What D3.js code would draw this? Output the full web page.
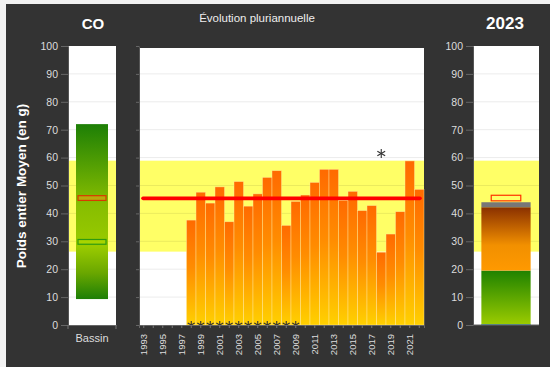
<!DOCTYPE html>
<html><head><meta charset="utf-8">
<script src="https://cdn.jsdelivr.net/npm/d3@7"></script>
<style>
html,body{margin:0;padding:0;background:#f2f2f2;}
svg{display:block;font-family:"Liberation Sans",Arial,Helvetica,sans-serif;}
</style></head>
<body><svg id="c" width="550" height="367"></svg>
<script>
// ---- data ----
const years = [1993,1994,1995,1996,1997,1998,1999,2000,2001,2002,2003,2004,2005,2006,2007,2008,2009,2010,2011,2012,2013,2014,2015,2016,2017,2018,2019,2020,2021,2022];
const yearValues = [null,null,null,null,null,37.6,47.6,43.7,49.5,37.0,51.4,42.6,47.0,52.9,55.3,35.7,44.3,46.6,51.1,55.8,55.8,44.6,47.9,41.0,42.8,26.1,32.6,40.6,58.8,48.6];
const zeroMarkerYears = [1998,1999,2000,2001,2002,2003,2004,2005,2006,2007,2008,2009];
const highMarkerYears = [2018];
const highMarkerValues = [61.5];
const refMean = [45.4];
const refBand = [26.3, 58.9];
const bassinRange = [9.3, 72.0];
const bassinMean = [45.5];
const bassinMedian = [29.8];
const stackNames = ["classe1","classe2","classe3"];
const stack2023 = [19.5, 22.7, 1.8];
const mark2023 = [45.5];
const yTicks = [0,10,20,30,40,50,60,70,80,90,100];
const yearLabels = [1993,1995,1997,1999,2001,2003,2005,2007,2009,2011,2013,2015,2017,2019,2021];

// ---- layout ----
const svg = d3.select("#c");
svg.append("rect").attr("x",6).attr("y",4).attr("width",544).attr("height",363).attr("fill","#333333");

const yTop = 46, yBot = 325;
const y = d3.scaleLinear().domain([0,100]).range([yBot,yTop]);

const defs = svg.append("defs");
function grad(id, stops, units){
  const g = defs.append("linearGradient").attr("id",id).attr("x1",0).attr("y1",0).attr("x2",0).attr("y2",1);
  if(units) g.attr("gradientUnits",units);
  stops.forEach(s=>g.append("stop").attr("offset",s[0]).attr("stop-color",s[1]));
  return g;
}
grad("gBar",[[0,"#ff6a00"],[0.45,"#ff8c00"],[1,"#ffd000"]]);
grad("gBassin",[[0,"#1d7f06"],[0.45,"#86bd00"],[0.7,"#9acb00"],[0.85,"#6aa700"],[1,"#1d7f06"]]);
grad("gGreen",[[0,"#1f8200"],[1,"#9ccc00"]]);
grad("gOrange",[[0,"#8a3000"],[0.6,"#f29000"],[1,"#ff9900"]]);

function panelBase(x0, x1, top){
  const g = svg.append("g");
  g.append("rect").attr("x",x0).attr("y",top).attr("width",x1-x0).attr("height",yBot-top).attr("fill","#ffffff");
  g.append("rect").attr("x",x0).attr("y",y(refBand[1])).attr("width",x1-x0)
    .attr("height",y(refBand[0])-y(refBand[1])).attr("fill","#ffff66");
  g.selectAll("line.grid").data(yTicks.filter(t=>t>0 && y(t)>top+1)).join("line")
    .attr("x1",x0).attr("x2",x1).attr("y1",d=>y(d)).attr("y2",d=>y(d))
    .attr("stroke","#000").attr("stroke-opacity",0.08).attr("stroke-width",1);
  return g;
}
function yAxis(x0, labels){
  const ax = d3.axisLeft(y).tickValues(yTicks).tickSize(labels?7:3).tickPadding(3).tickFormat(labels?d3.format("d"):"");
  const g = svg.append("g").attr("transform",`translate(${x0},0)`).call(ax);
  g.select(".domain").attr("stroke","#555");
  g.selectAll(".tick line").attr("stroke","#666");
  g.selectAll(".tick text").attr("fill","#dddddd").attr("font-size",10.5);
  return g;
}

// ---- left panel ----
const L0 = 68, L1 = 116;
panelBase(L0, L1, yTop);
const xL = d3.scaleBand().domain(["Bassin"]).range([L0,L1]).paddingInner(0).paddingOuter(0.25);
svg.append("rect").attr("x",xL("Bassin")).attr("width",xL.bandwidth())
  .attr("y",y(bassinRange[1])).attr("height",y(bassinRange[0])-y(bassinRange[1])).attr("fill","url(#gBassin)");
svg.append("rect").attr("x",xL("Bassin")+2).attr("width",xL.bandwidth()-4)
  .attr("y",y(bassinMean[0]+0.85)).attr("height",y(bassinMean[0]-0.85)-y(bassinMean[0]+0.85))
  .attr("fill","#e0a010").attr("fill-opacity",0.6).attr("stroke","#d83a00").attr("stroke-width",1.2);
svg.append("rect").attr("x",xL("Bassin")+2).attr("width",xL.bandwidth()-4)
  .attr("y",y(bassinMedian[0]+0.85)).attr("height",y(bassinMedian[0]-0.85)-y(bassinMedian[0]+0.85))
  .attr("fill","#a8d400").attr("stroke","#2f9a10").attr("stroke-width",1.2);
yAxis(L0, true);
const bl = svg.append("g").attr("transform",`translate(0,${yBot})`).call(d3.axisBottom(xL).tickSize(0).tickPadding(9));
bl.select(".domain").attr("stroke","#666");
bl.selectAll("text").attr("fill","#dddddd").attr("font-size",11);
[L0,L1].forEach(xx=>svg.append("line").attr("x1",xx).attr("x2",xx).attr("y1",yBot).attr("y2",yBot+4).attr("stroke","#777"));
svg.append("text").attr("x",93).attr("y",29).attr("text-anchor","middle").attr("fill","#fff")
  .attr("font-size",15).attr("font-weight","bold").text("CO");
svg.append("text").attr("transform","translate(26,186) rotate(-90)").attr("text-anchor","middle")
  .attr("fill","#fff").attr("font-size",13.5).attr("font-weight","bold").text("Poids entier Moyen (en g)");

// ---- middle panel ----
const M0 = 139, M1 = 424, mTop = 48;
panelBase(M0, M1, mTop);
const xM = d3.scaleBand().domain(years).range([M0,M1]).padding(0);
const clip = defs.append("clipPath").attr("id","clipM");
clip.append("rect").attr("x",M0).attr("y",mTop).attr("width",M1-M0).attr("height",yBot-mTop);
const barData = years.map((yr,i)=>({yr, v:yearValues[i]})).filter(d=>d.v!=null);
svg.append("g").selectAll("rect").data(barData).join("rect")
  .attr("x",d=>xM(d.yr)).attr("width",xM.bandwidth())
  .attr("y",d=>y(d.v)).attr("height",d=>yBot-y(d.v))
  .attr("fill","url(#gBar)").attr("stroke","#ffe9a0").attr("stroke-opacity",0.7).attr("stroke-width",0.6);
svg.append("line").attr("x1",M0+4).attr("x2",M1-4).attr("y1",y(refMean[0])).attr("y2",y(refMean[0]))
  .attr("stroke","#ff0000").attr("stroke-width",3.6).attr("stroke-linecap","round");
function asterisk(g, cx, cy, r){
  [0,60,120].forEach(a=>{
    const rad=a*Math.PI/180;
    g.append("line").attr("x1",cx-r*Math.sin(rad)).attr("y1",cy-r*Math.cos(rad))
      .attr("x2",cx+r*Math.sin(rad)).attr("y2",cy+r*Math.cos(rad))
      .attr("stroke","#333").attr("stroke-width",1.1);
  });
}
const mk = svg.append("g").attr("clip-path","url(#clipM)");
zeroMarkerYears.forEach(yr=>asterisk(mk, xM(yr)+xM.bandwidth()/2, y(0), 4));
highMarkerYears.forEach((yr,i)=>asterisk(svg.append("g"), xM(yr)+xM.bandwidth()/2, y(highMarkerValues[i]), 4.5));
yAxis(M0, false);
const bm = svg.append("g").attr("transform",`translate(0,${yBot})`)
  .call(d3.axisBottom(xM).tickValues(years).tickSize(3).tickFormat(d=>yearLabels.includes(d)?d:""));
bm.select(".domain").attr("stroke","#666");
bm.selectAll(".tick line").attr("stroke","#777");
bm.selectAll("text").attr("fill","#dddddd").attr("font-size",9.5)
  .attr("transform","rotate(-90)").attr("text-anchor","end").attr("dx","-4").attr("dy","-0.45em").attr("y",0).attr("x",0);
bm.selectAll(".tick text").attr("dy","0.32em").attr("x",-5);
svg.append("text").attr("x",257).attr("y",22).attr("text-anchor","middle").attr("fill","#eeeeee")
  .attr("font-size",11.5).text("Évolution pluriannuelle");

// ---- right panel ----
const R0 = 473, R1 = 539;
panelBase(R0, R1, yTop);
const xR = d3.scaleBand().domain(["2023"]).range([R0,R1]).paddingOuter(0.17).paddingInner(0);
const stacked = d3.stack().keys(stackNames)([Object.fromEntries(stackNames.map((k,i)=>[k,stack2023[i]]))]);
const fills = ["url(#gGreen)","url(#gOrange)","#777777"];
svg.append("g").selectAll("rect").data(stacked).join("rect")
  .attr("x",xR("2023")).attr("width",xR.bandwidth())
  .attr("y",d=>y(d[0][1])).attr("height",d=>y(d[0][0])-y(d[0][1]))
  .attr("fill",(d,i)=>fills[i]);
svg.append("line").attr("x1",xR("2023")).attr("x2",xR("2023")+xR.bandwidth()).attr("y1",yBot-0.5).attr("y2",yBot-0.5)
  .attr("stroke","#4aa0a0").attr("stroke-width",1);
svg.append("rect").attr("x",xR("2023")+xR.bandwidth()*0.2).attr("width",xR.bandwidth()*0.6)
  .attr("y",y(mark2023[0]+1)).attr("height",y(mark2023[0]-1)-y(mark2023[0]+1))
  .attr("fill","none").attr("stroke","#ff3000").attr("stroke-width",1.2);
yAxis(R0, true);
svg.append("line").attr("x1",R0).attr("x2",R1).attr("y1",yBot).attr("y2",yBot).attr("stroke","#666");
svg.append("text").attr("x",505).attr("y",29).attr("text-anchor","middle").attr("fill","#fff")
  .attr("font-size",17).attr("font-weight","bold").text("2023");
</script></body></html>
